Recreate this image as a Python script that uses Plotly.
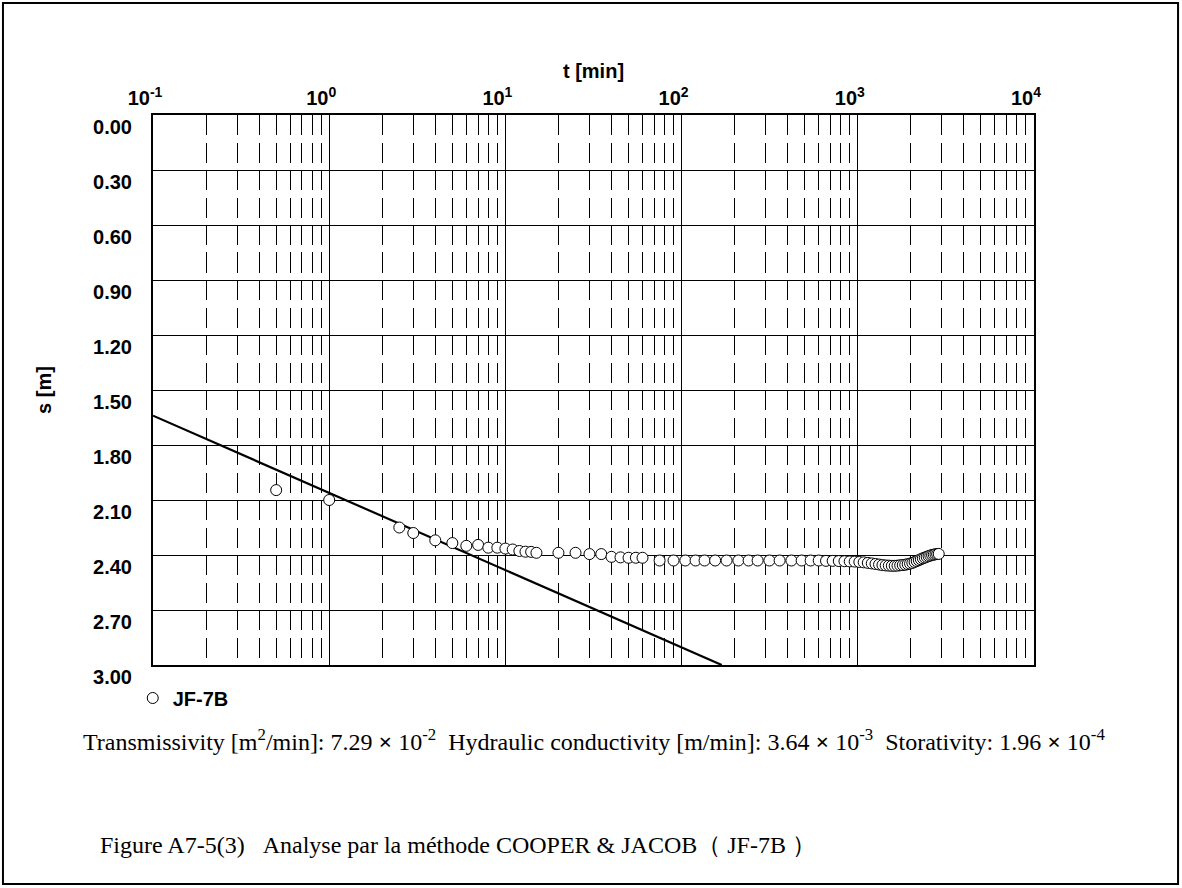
import plotly.graph_objects as go

# Drawdown readings at observation well JF-7B (time in minutes, drawdown in metres)
t_min = [0.5, 1, 2.5, 3, 4, 5, 6, 7, 8, 9, 10, 11, 12, 13, 14, 15,
         20, 25, 30, 35, 40, 45, 50, 55, 60, 75, 90, 105, 120, 135, 155,
         180, 210, 240, 270, 315, 360, 420, 480, 540, 600, 660, 720, 780,
         840, 900, 960, 1020, 1080, 1140, 1200, 1260, 1320, 1380, 1440,
         1500, 1560, 1620, 1680, 1740, 1800, 1860, 1920, 1980, 2040, 2100,
         2160, 2220, 2280, 2340, 2400, 2460, 2520, 2580, 2640, 2700, 2760,
         2820, 2880]
s_m = [2.046, 2.100, 2.250, 2.280, 2.320, 2.335, 2.350, 2.345, 2.360, 2.360,
       2.365, 2.370, 2.378, 2.382, 2.383, 2.388,
       2.388, 2.388, 2.395, 2.395, 2.410, 2.413, 2.415, 2.415, 2.415, 2.430,
       2.430, 2.430, 2.430, 2.430, 2.430,
       2.430, 2.430, 2.430, 2.430, 2.430, 2.430, 2.430, 2.430, 2.430, 2.430,
       2.432, 2.432, 2.433,
       2.434, 2.435, 2.436, 2.438, 2.440, 2.443, 2.446, 2.449, 2.452, 2.455,
       2.457, 2.458, 2.459, 2.459, 2.458, 2.456, 2.455, 2.453, 2.450, 2.447,
       2.443, 2.438, 2.433, 2.428, 2.423, 2.418, 2.414, 2.410, 2.406, 2.403,
       2.400, 2.398, 2.396, 2.395, 2.394]

# Cooper-Jacob straight line (end points of the fitted semi-log line)
fit_t = [0.1, 169.0]
fit_s = [1.64, 3.00]

# Axis ticks
decade_vals = [0.1, 1, 10, 100, 1000, 10000]
decade_text = ["10<sup>-1</sup>", "10<sup>0</sup>", "10<sup>1</sup>",
               "10<sup>2</sup>", "10<sup>3</sup>", "10<sup>4</sup>"]
s_ticks = [0.00, 0.30, 0.60, 0.90, 1.20, 1.50, 1.80, 2.10, 2.40, 2.70, 3.00]
mantissas = [2, 3, 4, 5, 6, 7, 8, 9]
minor_vals = [m * d for d in decade_vals[:-1] for m in mantissas]

bold = dict(family="Liberation Sans", size=20, color="black", weight="bold")

fig = go.Figure()
fig.add_trace(go.Scatter(
    x=fit_t, y=fit_s, mode="lines", showlegend=False, hoverinfo="skip",
    line=dict(color="black", width=2.2)))
fig.add_trace(go.Scatter(
    x=t_min, y=s_m, mode="markers", name="JF-7B",
    marker=dict(symbol="circle", size=11, color="white",
                line=dict(color="black", width=1))))

fig.update_layout(
    width=1182, height=888,
    margin=dict(l=153, r=148, t=115, b=223),
    paper_bgcolor="white", plot_bgcolor="white",
    font=dict(family="Liberation Sans", color="black"),
    xaxis=dict(
        type="log", side="top", range=[-1, 4],
        tickmode="array", tickvals=decade_vals, ticktext=decade_text,
        tickfont=bold, ticks="", ticklabelshift=-8,
        showgrid=True, gridcolor="black", gridwidth=1,
        minor=dict(tickvals=minor_vals, showgrid=True, gridcolor="black",
                   gridwidth=1, griddash="20px,7.5px", ticks=""),
        showline=True, mirror=True, linecolor="black", linewidth=2,
        zeroline=False,
        title=dict(text="t [min]", font=bold, standoff=0)),
    yaxis=dict(
        range=[3, 0], tickmode="array", tickvals=s_ticks, tickformat=".2f",
        tickfont=bold, ticks="", ticklabelstandoff=15, ticklabelshift=-12,
        showgrid=True, gridcolor="black", gridwidth=1,
        showline=True, mirror=True, linecolor="black", linewidth=2,
        zeroline=False,
        title=dict(text="s [m]", font=bold, standoff=36)),
    legend=dict(x=-0.023, y=-0.06, xanchor="left", yanchor="middle",
                font=dict(family="Liberation Sans", size=20, color="black",
                          weight="bold"),
                bgcolor="rgba(0,0,0,0)", itemwidth=30),
    shapes=[dict(type="rect", xref="paper", yref="paper",
                 x0=-0.1703, x1=1.1635, y0=-0.3982, y1=1.2036,
                 line=dict(color="black", width=2), layer="below")],
    annotations=[
        dict(xref="paper", yref="paper", x=0.5, y=-0.136,
             xanchor="center", yanchor="middle", showarrow=False,
             font=dict(family="Liberation Serif", size=24, color="black"),
             text=("Transmissivity [m<sup>2</sup>/min]: 7.29 <b>×</b> 10<sup>-2</sup>"
                   "\u00a0\u00a0Hydraulic conductivity [m/min]: 3.64 <b>×</b> 10<sup>-3</sup>"
                   "\u00a0\u00a0Storativity: 1.96 <b>×</b> 10<sup>-4</sup>")),
        dict(xref="paper", yref="paper", x=-0.0624, y=-0.327,
             xanchor="left", yanchor="middle", showarrow=False,
             font=dict(family="Liberation Serif", size=24, color="black"),
             text=("Figure A7-5(3)\u00a0\u00a0\u00a0Analyse par la méthode "
                   "COOPER &amp; JACOB\uff08 JF-7B \uff09")),
    ],
)

fig.write_html("out.html")
